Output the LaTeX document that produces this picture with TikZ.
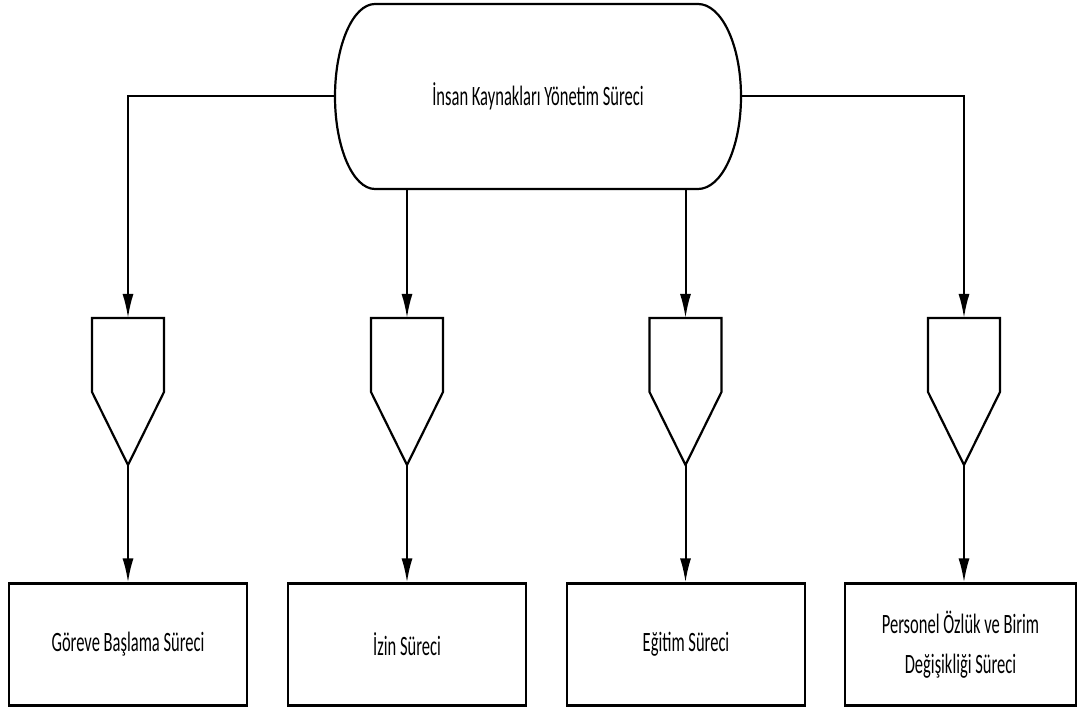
\documentclass[tikz,border=0pt]{standalone}
\usepackage{fontspec}
\newfontfamily\cf[FakeStretch=0.59]{Carlito}
\usetikzlibrary{arrows.meta}
\begin{document}
\begin{tikzpicture}[x=1pt,y=-1pt,
  shapeline/.style={line width=2.2pt,line join=miter},
  conn/.style={line width=2pt,-{Latex[length=24pt,width=11pt]}},
  procbox/.style={draw,line width=2.2pt,minimum width=238pt,minimum height=122pt,inner sep=0pt,align=center,font=\cf\fontsize{28}{40}\selectfont},
  toptext/.style={inner sep=0pt,font=\cf\fontsize{28}{34}\selectfont}]
\useasboundingbox[fill=white] (0,0) rectangle (1080,708);
% top terminal
\node[toptext,minimum width=406pt,minimum height=185pt] (top) at (538,96.5) {İnsan Kaynakları Yönetim Süreci};
\draw[shapeline] (375,4) -- (698,4) arc[start angle=90,end angle=-90,x radius=43pt,y radius=92.5pt]
  -- (375,189) arc[start angle=270,end angle=90,x radius=40pt,y radius=92.5pt] -- cycle;
% off-page connectors
\foreach \i/\cx in {1/128,2/407,3/685.5,4/964}{
  \coordinate (p\i) at (\cx,318);
  \coordinate (q\i) at (\cx,465);
  \draw[shapeline] (\cx-36,318) -- (\cx+36,318) -- (\cx+36,392) -- (q\i) -- (\cx-36,392) -- cycle;
}
% process boxes
\node[procbox] (b1) at (128,644.5) {Göreve Başlama Süreci};
\node[procbox] (b2) at (407,644.5) {İzin Süreci};
\node[procbox] (b3) at (686,644.5) {Eğitim Süreci};
\node[procbox,minimum width=231pt] (b4) at (960.5,644.5) {Personel Özlük ve Birim\\Değişikliği Süreci};
% connectors from top
\draw[conn] (top.west) -| (p1);
\draw[conn] (top.east) -| (p4);
\draw[conn] (top.south -| p2) -- (p2);
\draw[conn] (top.south -| p3) -- (p3);
% connectors to boxes
\foreach \i in {1,2,3,4}{
  \draw[conn] (q\i) -- (q\i |- b\i.north);
}
\end{tikzpicture}
\end{document}
